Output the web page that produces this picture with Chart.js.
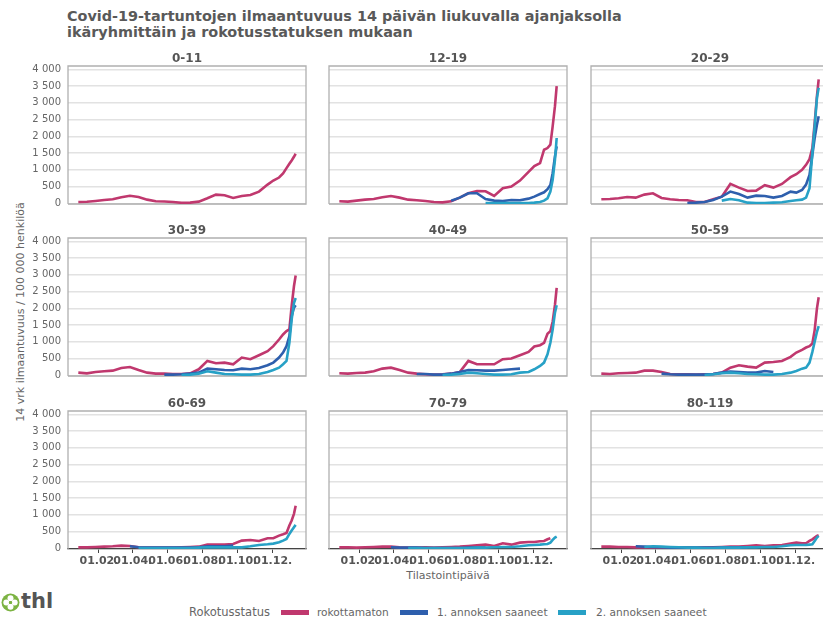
<!DOCTYPE html>
<html><head><meta charset="utf-8">
<script src="https://cdn.jsdelivr.net/npm/chart.js@4.4.1/dist/chart.umd.min.js"></script>
<style>
html,body{margin:0;padding:0;background:#fff;overflow:hidden;width:823px;height:619px;font-family:"DejaVu Sans",sans-serif;}
#wrap{position:relative;width:823px;height:619px;overflow:hidden;}
#wrap canvas{position:absolute;}
.txt{position:absolute;white-space:nowrap;}
.ptitle{position:absolute;font-weight:bold;font-size:12px;color:#555;text-align:center;line-height:14px;width:238px;}
.sw{position:absolute;width:28px;height:5px;top:610px;}
</style></head><body><div id="wrap">
<div class="txt" style="left:67px;top:8px;font-size:14.4px;font-weight:bold;color:#595959;line-height:16px;">Covid-19-tartuntojen ilmaantuvuus 14 päivän liukuvalla ajanjaksolla<br>ikäryhmittäin ja rokotusstatuksen mukaan</div>
<div class="txt" style="left:20px;top:312px;font-size:11px;color:#666;transform:translate(-50%,-50%) rotate(-90deg);">14 vrk ilmaantuvuus / 100 000 henkilöä</div>
<div class="txt" style="left:448px;top:575px;font-size:11px;color:#666;transform:translate(-50%,-50%);">Tilastointipäivä</div>
<svg style="position:absolute;left:1px;top:593px" width="19" height="19" viewBox="0 0 19 19">
<circle cx="9.5" cy="9.5" r="9" fill="#7cb342"/>
<circle cx="9.5" cy="5.3" r="3" fill="#fff"/><circle cx="9.5" cy="13.7" r="3" fill="#fff"/>
<circle cx="5.3" cy="9.5" r="3" fill="#fff"/><circle cx="13.7" cy="9.5" r="3" fill="#fff"/>
<circle cx="9.5" cy="9.5" r="1.6" fill="#7cb342"/>
</svg>
<div class="txt" style="left:21px;top:589px;font-size:21px;font-weight:bold;color:#555;line-height:24px;">thl</div>
</div>
<script>
const _ = null;
// day offsets from 1.1.2021
const days = [-5, 10, 25, 40, 55, 70, 85, 100, 115, 130, 145, 160, 175, 190, 205, 220, 235, 250, 265, 280, 295, 310, 325, 335, 345, 352, 358, 363, 367, 371, 374];
const xTickDays = [31, 90, 151, 212, 273, 334];
const xTickLabels = ['01.02.', '01.04.', '01.06.', '01.08.', '01.10.', '01.12.'];
const yTickValues = [0, 500, 1000, 1500, 2000, 2500, 3000, 3500, 4000];
const ageGroups = ['0-11', '12-19', '20-29', '30-39', '40-49', '50-59', '60-69', '70-79', '80-119'];
const seriesNames = ['rokottamaton', '1. annoksen saaneet', '2. annoksen saaneet'];
const seriesColors = ['#c0386e', '#2e5fad', '#27a1c6'];

const r_0_11  = [40, 45, 70, 100, 120, 180, 225, 190, 110, 60, 55, 40, 15, 20, 50, 150, 260, 240, 160, 220, 250, 350, 560, 680, 770, 890, 1050, 1180, 1280, 1390, 1480];

const r_12_19 = [60, 50, 80, 110, 130, 180, 220, 170, 110, 90, 70, 40, 30, 60, 170, 300, 370, 360, 220, 450, 500, 680, 940, 1110, 1200, 1600, 1650, 1750, 2300, 2900, 3500];
const d1_12_19 = [_, _, _, _, _, _, _, _, _, _, _, _, _, 80, 170, 300, 300, 130, 80, 70, 100, 90, 140, 200, 280, 330, 420, 550, 900, 1400, 1700];
const d2_12_19 = [_, _, _, _, _, _, _, _, _, _, _, _, _, _, _, _, _, 5, 5, 5, 5, 5, 10, 20, 40, 80, 150, 350, 700, 1300, 1950];

const r_20_29 = [120, 130, 150, 190, 170, 260, 300, 160, 120, 100, 90, 40, 40, 120, 200, 580, 470, 370, 380, 540, 470, 580, 780, 870, 1000, 1150, 1320, 1650, 2400, 3200, 3700];
const d1_20_29 = [_, _, _, _, _, _, _, _, _, _, 10, 20, 40, 100, 200, 350, 280, 170, 230, 220, 170, 220, 350, 320, 400, 560, 850, 1450, 1950, 2350, 2600];
const d2_20_29 = [_, _, _, _, _, _, _, _, _, _, _, _, _, _, 80, 130, 90, 20, 10, 10, 20, 30, 70, 90, 110, 170, 450, 1500, 2300, 3150, 3450];

const r_30_39 = [80, 60, 100, 120, 140, 220, 250, 160, 80, 50, 50, 40, 40, 60, 180, 430, 360, 380, 330, 530, 480, 600, 720, 870, 1070, 1220, 1320, 1370, 2070, 2660, 2980];
const d1_30_39 = [_, _, _, _, _, _, _, _, _, _, 20, 20, 30, 50, 80, 200, 180, 160, 150, 200, 180, 220, 300, 380, 530, 680, 870, 1170, 1770, 2020, 2090];
const d2_30_39 = [_, _, _, _, _, _, _, _, _, _, _, _, 10, 20, 50, 120, 80, 40, 30, 20, 20, 40, 100, 160, 230, 330, 430, 970, 1670, 2160, 2310];

const r_40_49 = [60, 50, 70, 80, 120, 200, 230, 160, 80, 50, 30, 20, 30, 50, 100, 430, 330, 330, 330, 480, 500, 600, 700, 860, 900, 970, 1240, 1320, 1600, 2100, 2610];
const d1_40_49 = [_, _, _, _, _, _, _, _, _, 40, 40, 20, 20, 50, 100, 160, 150, 140, 140, 160, 180, 200, _, _, _, _, _, _, _, _, _];
const d2_40_49 = [_, _, _, _, _, _, _, _, _, _, _, _, 10, 20, 40, 80, 60, 40, 20, 20, 30, 80, 100, 180, 280, 380, 630, 970, 1370, 1870, 2090];

const r_50_59 = [50, 40, 60, 70, 80, 140, 140, 100, 40, 30, 30, 20, 30, 40, 80, 230, 300, 260, 230, 380, 400, 430, 550, 680, 760, 830, 870, 950, 1350, 2000, 2330];
const d1_50_59 = [_, _, _, _, _, _, _, 50, 30, 20, 20, 20, 20, 40, 80, 110, 100, 80, 80, 130, 100, _, _, _, _, _, _, _, _, _, _];
const d2_50_59 = [_, _, _, _, _, _, _, _, _, _, _, _, 10, 30, 60, 80, 60, 40, 30, 20, 20, 40, 80, 130, 200, 230, 380, 700, 1000, 1300, 1470];

const r_60_69 = [30, 30, 40, 50, 60, 80, 70, 30, 20, 20, 20, 20, 30, 40, 50, 110, 110, 110, 130, 230, 250, 220, 300, 300, 380, 420, 460, 680, 830, 1030, 1270];
const d1_60_69 = [_, _, _, _, _, _, 60, 30, 20, 20, 20, 20, 20, 20, 30, 60, 60, 60, 80, _, _, _, _, _, _, _, _, _, _, _, _];
const d2_60_69 = [_, _, _, _, _, _, _, 10, 10, 10, 10, 10, 10, 10, 20, 30, 30, 30, 30, 30, 60, 100, 120, 140, 180, 230, 280, 430, 530, 630, 700];

const r_70_79 = [30, 30, 20, 30, 40, 50, 50, 30, 20, 20, 30, 20, 30, 40, 50, 70, 90, 110, 70, 150, 110, 170, 190, 190, 210, 220, 270, 300, _, _, _];
const d1_70_79 = [_, _, _, _, _, _, 30, 20, 20, 20, 10, 10, 10, 10, 10, 20, 20, 20, _, _, _, _, _, _, _, _, _, _, _, _, _];
const d2_70_79 = [_, _, _, _, _, _, _, _, 10, 10, 10, 10, 10, 10, 10, 10, 20, 20, 30, 40, 40, 60, 90, 100, 110, 120, 130, 170, 250, 320, 350];

const r_80_119 = [50, 50, 40, 40, 30, 30, 30, 30, 20, 20, 20, 20, 20, 30, 40, 50, 50, 70, 90, 70, 90, 100, 140, 170, 150, 150, 220, 270, 320, 370, 390];
const d1_80_119 = [_, _, _, _, 60, 50, 40, 30, 20, 20, 20, 20, 20, 20, 20, 30, 30, 30, _, _, _, _, _, _, _, _, _, _, _, _, _];
const d2_80_119 = [_, _, _, _, _, 40, 60, 50, 40, 30, 20, 20, 10, 10, 20, 20, 20, 30, 30, 40, 40, 60, 90, 100, 100, 100, 110, 120, 220, 320, 370];

const panelSeries = [
  [r_0_11, null, null],
  [r_12_19, d1_12_19, d2_12_19],
  [r_20_29, d1_20_29, d2_20_29],
  [r_30_39, d1_30_39, d2_30_39],
  [r_40_49, d1_40_49, d2_40_49],
  [r_50_59, d1_50_59, d2_50_59],
  [r_60_69, d1_60_69, d2_60_69],
  [r_70_79, d1_70_79, d2_70_79],
  [r_80_119, d1_80_119, d2_80_119]
];

const colLefts = [68, 329, 591];
const rowTops = [66, 238, 411];
const plotW = 238, plotH = 138;
const wrap = document.getElementById('wrap');

Chart.defaults.font.family = '"DejaVu Sans", sans-serif';

const framePlugin = {
  id: 'frame',
  beforeDatasetsDraw(chart, args, opts) {
    const { ctx, chartArea: a } = chart;
    ctx.save();
    ctx.strokeStyle = '#b0b0b0';
    ctx.lineWidth = 1.3;
    ctx.beginPath();
    ctx.moveTo(a.left, a.bottom);
    ctx.lineTo(a.left, a.top);
    ctx.lineTo(a.right, a.top);
    ctx.lineTo(a.right, a.bottom);
    if (!opts.bottomAxis) ctx.lineTo(a.left, a.bottom);
    ctx.stroke();
    ctx.restore();
  }
};

function fmt(v) { return String(v).replace(/\B(?=(\d{3})+(?!\d))/g, ' '); }

function makePanel(idx) {
  const col = idx % 3, row = Math.floor(idx / 3);
  const plotLeft = colLefts[col], plotTop = rowTops[row];
  const axisW = col === 0 ? 68 : 4;
  const padTop = 10, padRight = 4;
  const bottomH = row === 2 ? 30 : 4;
  const w = axisW + plotW + padRight, h = padTop + plotH + bottomH;
  const canvas = document.createElement('canvas');
  canvas.width = w; canvas.height = h;
  canvas.style.left = (plotLeft - axisW) + 'px';
  canvas.style.top = (plotTop - padTop) + 'px';
  canvas.style.width = w + 'px'; canvas.style.height = h + 'px';
  wrap.appendChild(canvas);

  const t = document.createElement('div');
  t.className = 'ptitle';
  t.textContent = ageGroups[idx];
  t.style.left = plotLeft + 'px';
  t.style.top = (plotTop - 15) + 'px';
  wrap.appendChild(t);

  const ser = panelSeries[idx];
  const datasets = [];
  for (let s = 2; s >= 0; s--) {
    if (!ser[s]) continue;
    datasets.push({
      label: seriesNames[s],
      data: days.map((d, i) => ({ x: d, y: ser[s][i] })),
      borderColor: seriesColors[s],
      backgroundColor: seriesColors[s],
      borderWidth: 2.6,
      pointRadius: 0,
      tension: 0,
      spanGaps: false,
      fill: false
    });
  }
  const bottom = row === 2;
  new Chart(canvas, {
    type: 'line',
    data: { datasets },
    plugins: [framePlugin],
    options: {
      responsive: false,
      animation: false,
      devicePixelRatio: 1,
      layout: { padding: { top: padTop, right: padRight, left: 0, bottom: 0 } },
      plugins: { legend: { display: false }, tooltip: { enabled: false }, frame: { bottomAxis: bottom } },
      scales: {
        x: {
          type: 'linear', min: -23, max: 392,
          afterBuildTicks: s => { s.ticks = xTickDays.map(v => ({ value: v })); },
          afterFit: s => { s.height = bottomH; s.paddingLeft = 0; s.paddingRight = 0; },
          ticks: {
            display: bottom, autoSkip: false, maxRotation: 0, minRotation: 0, padding: 2,
            font: { size: 11, weight: 'bold' }, color: '#555',
            callback: (v, i) => xTickLabels[i]
          },
          grid: { display: bottom, drawOnChartArea: false, drawTicks: true, tickLength: 4, color: '#444', lineWidth: 1 },
          border: { display: bottom, color: '#444', width: 1.3 }
        },
        y: {
          min: -20, max: 4100,
          afterBuildTicks: s => { s.ticks = yTickValues.map(v => ({ value: v })); },
          afterFit: s => { s.width = axisW; s.paddingTop = 0; s.paddingBottom = 0; },
          ticks: { display: col === 0, padding: 7, font: { size: 10 }, color: '#666', callback: v => fmt(v) },
          grid: { color: '#e2e2e2', lineWidth: 1.4, drawTicks: false },
          border: { display: false }
        }
      }
    }
  });
}
for (let i = 0; i < 9; i++) makePanel(i);

// legend
const legendItems = [
  { text: 'Rokotusstatus', left: 189, size: 11.5 },
  { sw: 0, left: 281 }, { text: seriesNames[0], left: 317, size: 10.6 },
  { sw: 1, left: 400 }, { text: seriesNames[1], left: 437, size: 10.6 },
  { sw: 2, left: 558 }, { text: seriesNames[2], left: 596, size: 10.6 }
];
legendItems.forEach(it => {
  const el = document.createElement('div');
  if (it.text) {
    el.className = 'txt';
    el.textContent = it.text;
    el.style.left = it.left + 'px';
    el.style.top = '612px';
    el.style.fontSize = it.size + 'px';
    el.style.color = '#666';
    el.style.transform = 'translateY(-50%)';
  } else {
    el.className = 'sw';
    el.style.left = it.left + 'px';
    el.style.background = seriesColors[it.sw];
  }
  wrap.appendChild(el);
});
</script>
</body></html>
